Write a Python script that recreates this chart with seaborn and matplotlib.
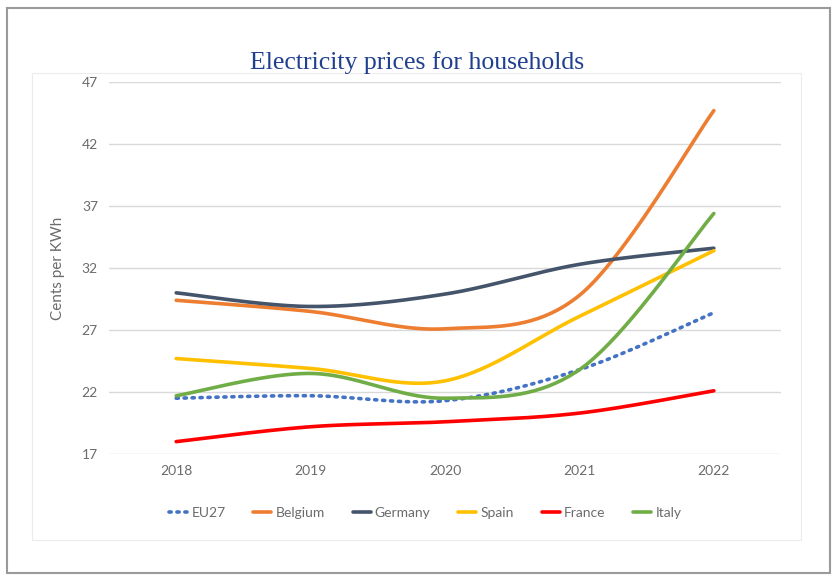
import numpy as np
import pandas as pd
import matplotlib.pyplot as plt
import seaborn as sns
from matplotlib.patches import Rectangle
from matplotlib.lines import Line2D

# data
years = [2018, 2019, 2020, 2021, 2022]
countries = ['EU27', 'Belgium', 'Germany', 'Spain', 'France', 'Italy']
eu27 = [21.5, 21.7, 21.3, 23.8, 28.4]
belgium = [29.4, 28.5, 27.1, 29.8, 44.7]
germany = [30.0, 28.9, 29.9, 32.3, 33.6]
spain = [24.7, 23.9, 22.9, 28.1, 33.4]
france = [18.0, 19.2, 19.6, 20.3, 22.1]
italy = [21.7, 23.5, 21.5, 23.8, 36.4]
y_ticks = [17, 22, 27, 32, 37, 42, 47]

colors = ['#4472C4', '#ED7D31', '#44546A', '#FFC000', '#FF0000', '#70AD47']
series = [eu27, belgium, germany, spain, france, italy]


def smooth(x, y, n=40):
    # excel-style smoothed line (bezier through the points)
    x = np.asarray(x, float)
    y = np.asarray(y, float)
    px, py = [], []
    for i in range(len(x) - 1):
        x0, y0 = x[max(i - 1, 0)], y[max(i - 1, 0)]
        x3, y3 = x[min(i + 2, len(x) - 1)], y[min(i + 2, len(x) - 1)]
        c1x = x[i] + (x[i + 1] - x0) / 6
        c1y = y[i] + (y[i + 1] - y0) / 6
        c2x = x[i + 1] - (x3 - x[i]) / 6
        c2y = y[i + 1] - (y3 - y[i]) / 6
        t = np.linspace(0, 1, n)
        px.append((1-t)**3*x[i] + 3*(1-t)**2*t*c1x + 3*(1-t)*t**2*c2x + t**3*x[i+1])
        py.append((1-t)**3*y[i] + 3*(1-t)**2*t*c1y + 3*(1-t)*t**2*c2y + t**3*y[i+1])
    return np.concatenate(px), np.concatenate(py)


sns.set_style('white')
plt.rcParams['font.family'] = ['Lato', 'DejaVu Sans']

fig = plt.figure(figsize=(8.34, 5.78), dpi=100)
ax = fig.add_axes([0.1307, 0.2145, 0.8058, 0.6435])

# frame around image and chart
fig.patches.append(Rectangle((0.008, 0.008), 0.987, 0.978, transform=fig.transFigure,
                             fill=False, edgecolor='#9a9a9a', linewidth=1.5))
fig.patches.append(Rectangle((0.038, 0.066), 0.922, 0.808, transform=fig.transFigure,
                             fill=False, edgecolor='#ececec', linewidth=0.8))

for name, vals, c in zip(countries, series, colors):
    sx, sy = smooth(years, vals)
    df = pd.DataFrame({'year': sx, 'price': sy})
    if name == 'EU27':
        sns.lineplot(data=df, x='year', y='price', ax=ax, color=c, linewidth=2.6,
                     linestyle=(0, (0.6, 1.6)), dash_capstyle='round', sort=False)
    else:
        sns.lineplot(data=df, x='year', y='price', ax=ax, color=c, linewidth=2.6,
                     sort=False)

ax.set_xlim(2017.5, 2022.5)
ax.set_ylim(17, 47)
ax.set_xticks(years)
ax.set_yticks(y_ticks)
ax.grid(axis='y', color='#d9d9d9', linewidth=1)
for s in ax.spines.values():
    s.set_visible(False)
ax.tick_params(axis='both', length=0, labelsize=10, colors='#6b6b6b', pad=8)
ax.set_xlabel('')
ax.set_ylabel('Cents per KWh', fontsize=11, color='#6b6b6b', labelpad=12)

fig.text(0.5, 0.891, 'Electricity prices for households', ha='center', va='center',
         fontsize=18.5, color='#1F3F8F', family=['Liberation Serif', 'DejaVu Serif'])

handles = []
for name, c in zip(countries, colors):
    if name == 'EU27':
        handles.append(Line2D([], [], color=c, linewidth=2.6, linestyle=(0, (0.6, 1.6)),
                              dash_capstyle='round'))
    else:
        handles.append(Line2D([], [], color=c, linewidth=2.6))
fig.legend(handles, countries, loc='center', bbox_to_anchor=(0.51, 0.112), ncol=6,
           frameon=False, fontsize=10, labelcolor='#6b6b6b', handlelength=1.3,
           handletextpad=0.3, columnspacing=2.0)

plt.savefig('out.png', dpi=100)
